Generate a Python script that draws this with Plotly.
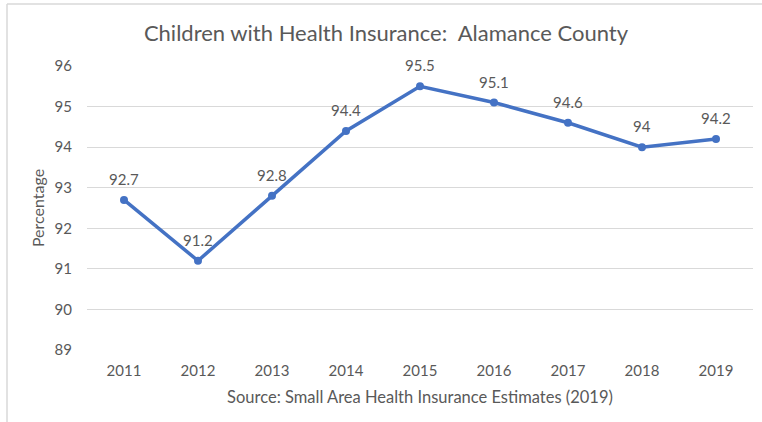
import plotly.graph_objects as go

years = ["2011", "2012", "2013", "2014", "2015", "2016", "2017", "2018", "2019"]
values = [92.7, 91.2, 92.8, 94.4, 95.5, 95.1, 94.6, 94.0, 94.2]
labels = ["92.7", "91.2", "92.8", "94.4", "95.5", "95.1", "94.6", "94", "94.2"]
y_ticks = [89, 90, 91, 92, 93, 94, 95, 96]

W, H = 762, 422
ml, mr, mt, mb = 87, 9, 66, 72
pw, ph = W - ml - mr, H - mt - mb
FONT = "Lato, Open Sans, sans-serif"
GREY = "#595959"

fig = go.Figure()
fig.add_trace(go.Scatter(
    x=years, y=values, mode="lines+markers",
    line=dict(color="#4472C4", width=3.5),
    marker=dict(color="#4472C4", size=8),
    cliponaxis=False, hoverinfo="skip",
))

for i, (yv, t) in enumerate(zip(values, labels)):
    fig.add_annotation(x=i, y=yv, xref="x", yref="y", text=t, showarrow=False, yshift=21,
                       font=dict(family=FONT, size=15, color=GREY))

# Outer frame lines (top and left)
fx0 = (7 - ml) / pw
fy1 = 1 + (mt - 4) / ph
fig.add_shape(type="line", xref="paper", yref="paper", x0=fx0, x1=1 + mr / pw + 0.01,
              y0=fy1, y1=fy1, line=dict(color="#d9d9d9", width=1.5))
fig.add_shape(type="line", xref="paper", yref="paper", x0=fx0, x1=fx0,
              y0=-mb / ph - 0.01, y1=fy1, line=dict(color="#d9d9d9", width=1.5))

fig.update_layout(
    width=W, height=H,
    margin=dict(l=ml, r=mr, t=mt, b=mb),
    paper_bgcolor="white", plot_bgcolor="white",
    showlegend=False,
    font=dict(family=FONT, color=GREY, size=15),
    title=dict(text="Children with Health Insurance:  Alamance County",
               x=386 / W, xanchor="center", y=1 - 33 / H, yanchor="middle",
               font=dict(size=22, color=GREY)),
    xaxis=dict(type="category", range=[-0.5, 8.5], showgrid=False, zeroline=False,
               showline=False, ticks="", tickfont=dict(size=15, color=GREY),
               ticklabelstandoff=10,
               title=dict(text="Source: Small Area Health Insurance Estimates (2019)",
                          font=dict(size=16.5, color=GREY), standoff=13)),
    yaxis=dict(range=[89, 96], tickvals=y_ticks, showgrid=True, gridcolor="#d9d9d9",
               gridwidth=1, zeroline=False, showline=False, ticks="",
               tickfont=dict(size=15, color=GREY), ticklabelstandoff=14,
               title=dict(text="Percentage", font=dict(size=16, color=GREY), standoff=5)),
)

fig.write_html("out.html")
